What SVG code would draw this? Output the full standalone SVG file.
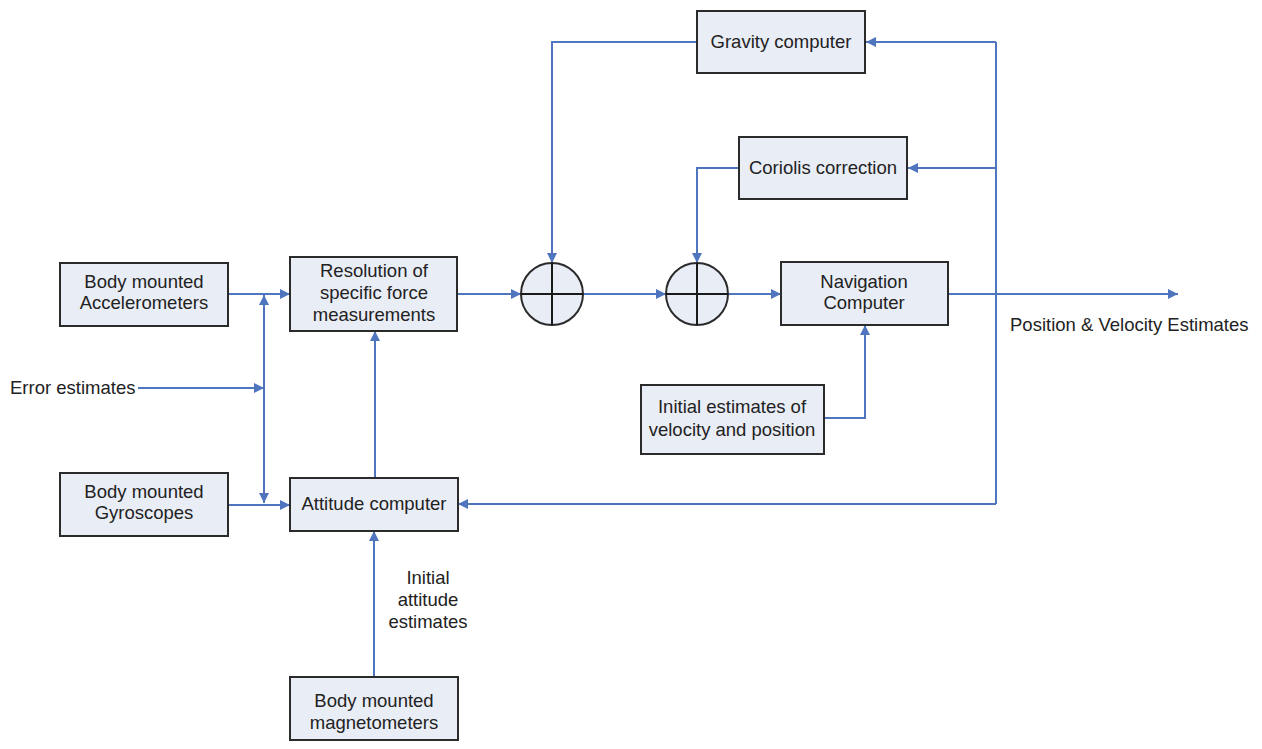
<svg xmlns="http://www.w3.org/2000/svg" width="1262" height="749" viewBox="0 0 1262 749">
<style>
.box{fill:#E9EDF6;stroke:#2b2b2b;stroke-width:2}
.sum{fill:#E9EDF6;stroke:#2b2b2b;stroke-width:2}
.cross{stroke:#1a1a1a;stroke-width:2}
.t{font-family:"Liberation Sans",Arial,sans-serif;font-size:18.5px;fill:#222;text-anchor:middle}
.tl{font-family:"Liberation Sans",Arial,sans-serif;font-size:18.5px;fill:#222}
.c{fill:none;stroke:#4F75BE;stroke-width:2}
.a{fill:none;stroke:#4F75BE;stroke-width:2;marker-end:url(#arr)}
</style>
<defs>
<marker id="arr" viewBox="0 0 10 10" refX="10" refY="5" markerWidth="6" markerHeight="5" orient="auto" markerUnits="strokeWidth">
<path d="M0,0 L10,5 L0,10 z" fill="#4F75BE"/>
</marker>
</defs>
<rect width="1262" height="749" fill="#ffffff"/>
<g id="connectors">
<path class="a" d="M228,294 L290,294"/>
<path class="a" d="M228,505 L290,505"/>
<path class="a" d="M138,388 L264,388"/>
<path class="a" d="M264,388 L264,295"/>
<path class="a" d="M264,388 L264,503"/>
<path class="a" d="M375,478 L375,331"/>
<path class="a" d="M374,677 L374,531"/>
<path class="a" d="M457,294 L521,294"/>
<path class="a" d="M583,294 L666,294"/>
<path class="a" d="M728,294 L781,294"/>
<path class="a" d="M697,42 L552,42 L552,263"/>
<path class="a" d="M739,168 L697,168 L697,263"/>
<path class="a" d="M824,418 L865,418 L865,325"/>
<path class="a" d="M948,294 L1178,294"/>
<path class="c" d="M996,42 L996,504"/>
<path class="a" d="M996,42 L866,42"/>
<path class="a" d="M996,168 L908,168"/>
<path class="a" d="M996,504 L458,504"/>
</g>
<g id="accelerometers">
<rect class="box" x="60" y="263" width="168" height="63"/>
<text class="t" x="144" y="288">Body mounted</text>
<text class="t" x="144" y="309">Accelerometers</text>
</g>
<g id="resolution">
<rect class="box" x="290" y="257" width="167" height="74"/>
<text class="t" x="374" y="277">Resolution of</text>
<text class="t" x="374" y="299">specific force</text>
<text class="t" x="374" y="321">measurements</text>
</g>
<g id="error-estimates">
<text class="tl" x="10" y="394">Error estimates</text>
</g>
<g id="gyroscopes">
<rect class="box" x="60" y="473" width="168" height="63"/>
<text class="t" x="144" y="498">Body mounted</text>
<text class="t" x="144" y="519">Gyroscopes</text>
</g>
<g id="attitude">
<rect class="box" x="290" y="478" width="168" height="53"/>
<text class="t" x="374" y="510">Attitude computer</text>
</g>
<g id="initial-attitude">
<text class="t" x="428" y="584">Initial</text>
<text class="t" x="428" y="606">attitude</text>
<text class="t" x="428" y="628">estimates</text>
</g>
<g id="magnetometers">
<rect class="box" x="290" y="677" width="168" height="63"/>
<text class="t" x="374" y="707">Body mounted</text>
<text class="t" x="374" y="729">magnetometers</text>
</g>
<g id="gravity">
<rect class="box" x="697" y="11" width="168" height="62"/>
<text class="t" x="781" y="48">Gravity computer</text>
</g>
<g id="coriolis">
<rect class="box" x="739" y="137" width="168" height="62"/>
<text class="t" x="823" y="174">Coriolis correction</text>
</g>
<g id="sum1">
<circle class="sum" cx="552" cy="294" r="31"/>
<path class="cross" d="M521,294 L583,294 M552,263 L552,325"/>
</g>
<g id="sum2">
<circle class="sum" cx="697" cy="294" r="31"/>
<path class="cross" d="M666,294 L728,294 M697,263 L697,325"/>
</g>
<g id="navigation">
<rect class="box" x="781" y="262" width="167" height="63"/>
<text class="t" x="864" y="288">Navigation</text>
<text class="t" x="864" y="309">Computer</text>
</g>
<g id="initial-estimates">
<rect class="box" x="641" y="385" width="183" height="69"/>
<text class="t" x="732" y="413">Initial estimates of</text>
<text class="t" x="732" y="436">velocity and position</text>
</g>
<g id="output">
<text class="tl" x="1010" y="331">Position &amp; Velocity Estimates</text>
</g>
</svg>
